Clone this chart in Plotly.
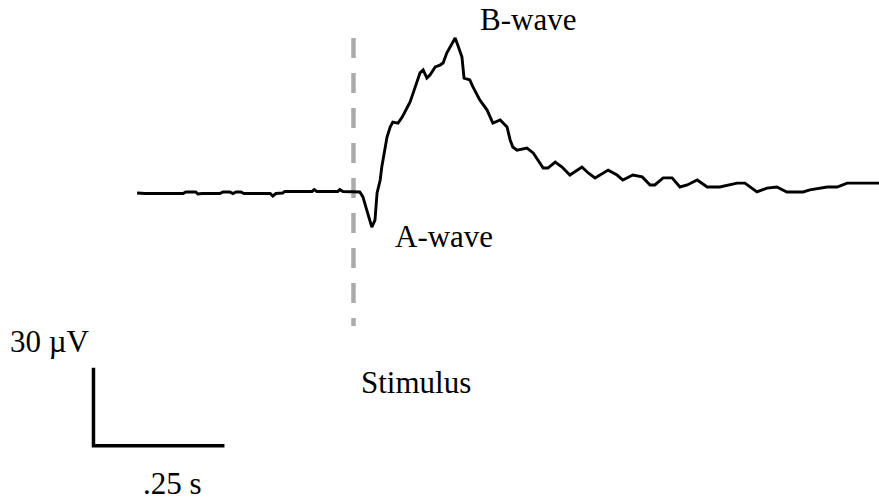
import plotly.graph_objects as go

# ERG trace: time (ms, stimulus at 0) and amplitude (µV)
time_ms = [-413, -398, -325, -320, -301, -297, -289, -255, -249, -236, -230, -224, -215, -209,
           -159, -154, -148, -135, -131, -79, -75, -70, -30, -26, -20, -1,
           12, 18, 26, 31, 35, 41, 45, 51, 54, 60, 64, 70, 75, 85, 93, 102, 108, 114, 121,
           127, 133, 140, 146, 156, 165, 171, 178, 184, 194, 199, 207, 211, 222, 228, 241,
           255, 266, 280, 293, 299, 304, 312, 331, 343, 362, 371, 385, 398, 413, 436, 448,
           461, 486, 503, 514, 533, 551, 566, 575, 591, 608, 623, 637, 656, 675, 699, 732,
           747, 770, 780, 789, 808, 827, 858, 871, 904, 923, 942, 967, 1003]
amp_uv = [0.0, -0.2, -0.2, 0.4, 0.4, -0.4, -0.2, -0.2, 0.4, 0.4, -0.2, 0.4, 0.4, -0.2,
          -0.2, -1.2, -0.2, 0.0, 0.6, 0.6, 1.3, 0.6, 0.6, 1.3, 0.6, 0.6,
          0.4, -1.5, -6.5, -10.4, -13.1, -10.4, 0.0, 5.0, 10.0, 17.7, 21.5, 25.4, 27.3, 26.9,
          29.2, 32.7, 35.0, 38.5, 42.3, 46.2, 47.3, 44.2, 45.4, 48.5, 49.2, 50.0, 53.8, 56.2,
          59.6, 56.9, 52.3, 44.2, 43.5, 40.8, 35.8, 31.9, 26.9, 28.1, 25.4, 20.4, 17.7, 16.5,
          17.3, 15.4, 9.6, 9.6, 11.9, 10.0, 6.9, 10.0, 7.7, 5.8, 8.8, 6.9, 5.0, 6.9, 6.2,
          3.1, 3.1, 5.8, 5.8, 2.3, 3.1, 5.0, 2.3, 2.3, 3.8, 3.8, 0.4, 1.2, 1.9, 2.3, 0.4,
          0.4, 1.2, 2.3, 2.3, 3.8, 3.8, 3.8]

# scale bar values
scale_time_ms = 250
scale_amp_uv = 30
stimulus_time_ms = 0

labels = {"b": "B-wave", "a": "A-wave", "stim": "Stimulus",
          "amp": "30 µV", "time": ".25 s"}

W, H = 879, 503
X_RANGE = [-674.6, 1002.9]
Y_RANGE = [-119.23, 74.23]

# layout positions (data coords) for the scale bar corner and stimulus line
bar_t0, bar_v0 = -496.2, -97.2
stim_top, stim_bottom = 59.6, -51.2

fig = go.Figure()

fig.add_trace(go.Scatter(
    x=[stimulus_time_ms, stimulus_time_ms], y=[stim_top, stim_bottom],
    mode="lines", line=dict(color="#ababab", width=4.5, dash="20px,15px"),
    hoverinfo="skip", showlegend=False))

fig.add_trace(go.Scatter(
    x=time_ms, y=amp_uv, mode="lines",
    line=dict(color="black", width=2.9),
    showlegend=False))

fig.add_trace(go.Scatter(
    x=[bar_t0, bar_t0, bar_t0 + scale_time_ms],
    y=[bar_v0 + scale_amp_uv, bar_v0, bar_v0],
    mode="lines", line=dict(color="black", width=3.5),
    hoverinfo="skip", showlegend=False))

FONT = dict(family="Liberation Serif, Times New Roman, serif", size=31, color="black")

def px_ann(text, xp, yp, yanchor="middle"):
    fig.add_annotation(text=text, x=xp / W, y=1 - yp / H, xref="paper", yref="paper",
                       xanchor="center", yanchor=yanchor, showarrow=False, font=FONT)

px_ann(labels["b"], 528, 19)
px_ann(labels["a"], 444, 236)
px_ann(labels["amp"], 50, 341)
px_ann(labels["stim"], 416, 382)
px_ann(labels["time"], 172.5, 503, yanchor="bottom")

fig.update_layout(
    width=W, height=H,
    margin=dict(l=0, r=0, t=0, b=0),
    paper_bgcolor="white", plot_bgcolor="white",
    xaxis=dict(range=X_RANGE, visible=False, fixedrange=True),
    yaxis=dict(range=Y_RANGE, visible=False, fixedrange=True),
)

fig.write_html("out.html", config={"displayModeBar": False})
